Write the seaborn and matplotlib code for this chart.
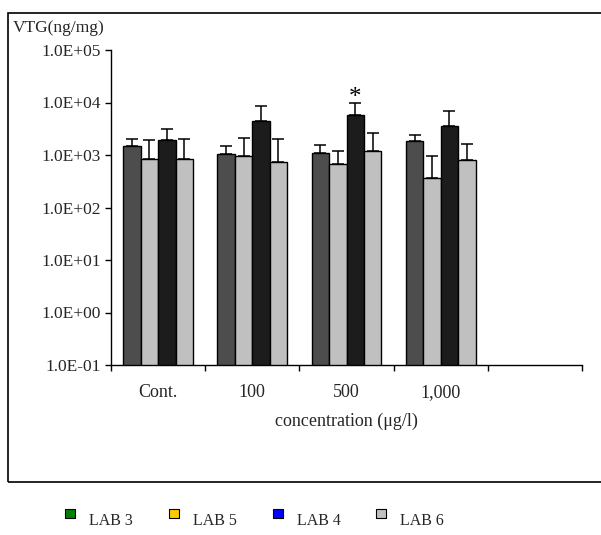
import matplotlib
matplotlib.use("Agg")
import matplotlib.pyplot as plt
from matplotlib.lines import Line2D
from matplotlib.patches import Rectangle
from matplotlib.path import Path
from matplotlib.ticker import FixedLocator, FuncFormatter, NullLocator, NullFormatter
import numpy as np
import pandas as pd
import seaborn as sns

# Vitellogenin by exposure concentration, per laboratory
concentrations = ["Cont.", "100", "500", "1,000"]
labs = ["LAB 3", "LAB 5", "LAB 4", "LAB 6"]
lab3_mean = [1500, 1060, 1110, 1820]
lab5_mean = [840, 940, 680, 370]
lab4_mean = [1900, 4400, 5700, 3500]
lab6_mean = [840, 750, 1170, 790]
lab3_sd = [500, 400, 440, 540]
lab5_sd = [1090, 1190, 490, 570]
lab4_sd = [1220, 4250, 4300, 3400]
lab6_sd = [1180, 1270, 1450, 830]
significant = [("500", "LAB 4")]

bar_colors = ["#4d4d4d", "#c0c0c0", "#1c1c1c", "#c0c0c0"]
legend_colors = ["#008000", "#ffcc00", "#0000ff", "#c0c0c0"]

means = [lab3_mean, lab5_mean, lab4_mean, lab6_mean]
sds = [lab3_sd, lab5_sd, lab4_sd, lab6_sd]
df = pd.DataFrame({
    "conc": concentrations * len(labs),
    "lab": np.repeat(labs, len(concentrations)),
    "vtg": np.concatenate(means),
    "sd": np.concatenate(sds),
})

sns.set_theme(style="white")
plt.rcParams["font.family"] = ["Liberation Serif", "DejaVu Serif"]

fig = plt.figure(figsize=(6.01, 5.35), dpi=100)
ax = fig.add_axes([111 / 601, 1 - 365 / 535, 471 / 601, 315 / 535])

sns.barplot(data=df, x="conc", y="vtg", hue="lab", order=concentrations,
            hue_order=labs, palette=bar_colors, width=0.74, errorbar=None,
            edgecolor="black", linewidth=1.0, saturation=1, legend=False, ax=ax)

ax.set_yscale("log")
ax.set_ylim(0.1, 1e5)
ax.set_xlim(-0.5, 4.5)

# upper-only error bars on each bar
bar_tops = {}
for lab, cont in zip(labs, ax.containers):
    sub = df[df["lab"] == lab].set_index("conc").loc[concentrations]
    xs = [p.get_x() + p.get_width() / 2 for p in cont.patches]
    hs = sub["vtg"].to_numpy()
    ax.errorbar(xs, hs, yerr=[np.zeros(len(hs)), sub["sd"].to_numpy()], fmt="none",
                ecolor="black", elinewidth=1.1, capsize=4, capthick=1.1, zorder=3)
    for c, x, h, s in zip(concentrations, xs, hs, sub["sd"].to_numpy()):
        bar_tops[(c, lab)] = (x, h + s)

for key in significant:
    x, top = bar_tops[key]
    ax.annotate("*", xy=(x, top), xytext=(0, -5), textcoords="offset points",
                ha="center", va="bottom", fontsize=18, color="black")

# axes styling
for side in ["top", "right"]:
    ax.spines[side].set_visible(False)
for side in ["left", "bottom"]:
    ax.spines[side].set_color("black")
    ax.spines[side].set_linewidth(1.0)

ax.yaxis.set_major_locator(FixedLocator([10.0 ** k for k in range(-1, 6)]))
ax.yaxis.set_minor_locator(NullLocator())
ax.yaxis.set_major_formatter(FuncFormatter(lambda v, _: format(v, ".1E")))
ax.tick_params(axis="y", which="major", direction="out", length=4, width=1,
               color="black", pad=3.5, labelsize=12.5, left=True)

ax.xaxis.set_major_locator(FixedLocator(np.arange(-0.5, 5.0, 1.0)))
ax.xaxis.set_major_formatter(NullFormatter())
ax.xaxis.set_minor_locator(FixedLocator(range(len(concentrations))))
ax.xaxis.set_minor_formatter(FuncFormatter(lambda v, _: concentrations[int(round(v))]))
ax.tick_params(axis="x", which="major", direction="out", length=4, width=1,
               color="black", bottom=True)
ax.tick_params(axis="x", which="minor", length=0, pad=14, labelsize=13)

ax.set_xlabel("concentration (μg/l)", fontsize=13, labelpad=8)
ax.set_ylabel("")
ax.grid(False)

fig.text(13 / 601, 1 - 28 / 535, "VTG(ng/mg)", fontsize=12.5, ha="left", va="center")

# outer chart frame
fig.add_artist(Rectangle((8 / 601, 1 - 482 / 535), 1.0, (482 - 12.7) / 535,
                         transform=fig.transFigure, fill=False, edgecolor="black",
                         linewidth=1.2, clip_on=False))

# legend keys: small squares sitting a little above the text line
c_off = 1.2
key_square = Path([(-1, c_off - 1), (1, c_off - 1), (1, c_off + 1), (-1, c_off + 1),
                   (-1, c_off - 1)], closed=True)
handles = [Line2D([0], [0], marker=key_square, linestyle="none", markersize=14.5,
                  markerfacecolor=c, markeredgecolor="black", markeredgewidth=0.8)
           for c in legend_colors]
fig.legend(handles, labs, loc="center", bbox_to_anchor=(254 / 601, 1 - 521 / 535),
           ncol=4, frameon=False, fontsize=11.5, handlelength=0.8, handletextpad=0.8,
           columnspacing=2.15, borderaxespad=0)

fig.savefig("out.png", dpi=100, facecolor="white")
